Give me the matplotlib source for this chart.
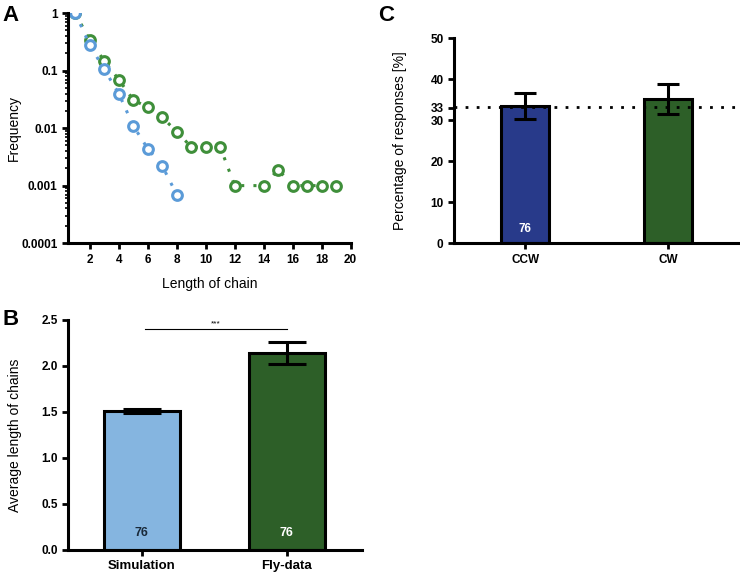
import numpy as np
import matplotlib.pyplot as plt
from matplotlib.ticker import FixedLocator, FixedFormatter, LogLocator, NullFormatter

plt.rcParams['font.family'] = ['Liberation Sans', 'DejaVu Sans']

# Panel A: frequency of chain lengths
sim_len = [1, 2, 3, 4, 5, 6, 7, 8]
sim_freq = [1.0, 0.28, 0.105, 0.04, 0.011, 0.0044, 0.0022, 0.0007]
fly_len = [1, 2, 3, 4, 5, 6, 7, 8, 9, 10, 11, 12, 14, 15, 16, 17, 18, 19]
fly_freq = [1.0, 0.34, 0.148, 0.07, 0.031, 0.023, 0.0154, 0.0087, 0.0047,
            0.0047, 0.0047, 0.001, 0.001, 0.0019, 0.001, 0.001, 0.001, 0.001]

# Panel B: average chain length
b_groups = ['Simulation', 'Fly-data']
b_means = [1.51, 2.14]
b_err = [0.02, 0.12]
b_n = [76, 76]

# Panel C: percentage of responses
c_groups = ['CCW', 'CW']
c_means = [33.5, 35.2]
c_err = [3.2, 3.7]
c_n = [76]

blue = '#5b9bd8'
green = '#3f8f3a'
light_blue = '#85b5e0'
dark_green = '#2d5f28'
navy = '#283a8a'


def style_axes(ax):
    for s in ['top', 'right']:
        ax.spines[s].set_visible(False)
    for s in ['left', 'bottom']:
        ax.spines[s].set_linewidth(2.2)
    ax.tick_params(width=2, length=4, labelsize=8.5)
    for lab in ax.get_xticklabels() + ax.get_yticklabels():
        lab.set_fontweight('bold')


fig = plt.figure(figsize=(7.4, 5.72), dpi=100)

# ---- A ----
axA = fig.add_axes([0.0919, 0.575, 0.382, 0.402])
axA.plot(fly_len, fly_freq, color=green, lw=2.2, ls=(0, (1, 3)),
         marker='o', ms=7, mfc='white', mec=green, mew=2.2)
axA.plot(sim_len, sim_freq, color=blue, lw=2.2, ls=(0, (1, 3)),
         marker='o', ms=7, mfc='white', mec=blue, mew=2.2)
axA.set_yscale('log')
axA.set_ylim(0.0001, 1)
axA.set_xlim(0.5, 20)
axA.yaxis.set_major_locator(FixedLocator([1e-4, 1e-3, 1e-2, 1e-1, 1]))
axA.yaxis.set_major_formatter(FixedFormatter(['0.0001', '0.001', '0.01', '0.1', '1']))
axA.yaxis.set_minor_locator(LogLocator(base=10, subs=np.arange(2, 10)))
axA.yaxis.set_minor_formatter(NullFormatter())
axA.tick_params(axis='y', which='minor', width=1.2, length=2.5)
axA.set_xticks(range(2, 21, 2))
axA.set_xlabel('Length of chain', fontsize=10, labelpad=8)
axA.set_ylabel('Frequency', fontsize=10)
axA.yaxis.set_label_coords(-0.166, 0.5)
style_axes(axA)
fig.text(0.003, 0.964, 'A', fontsize=16, fontweight='bold')

# ---- B ----
axB = fig.add_axes([0.0919, 0.0385, 0.397, 0.4025])
xb = np.arange(len(b_groups))
axB.bar(xb, b_means, width=0.52, color=[light_blue, dark_green],
        edgecolor='black', linewidth=2.2, zorder=2)
axB.errorbar(xb, b_means, yerr=b_err, fmt='none', ecolor='black',
             elinewidth=2.2, capsize=14, capthick=2.2, zorder=3)
for x, n, c in zip(xb, b_n, ['#1a2a3a', 'white']):
    axB.text(x, 0.18, str(n), ha='center', va='center', fontsize=9,
             fontweight='bold', color=c)
axB.plot([0.02, 1.0], [2.4, 2.4], color='black', lw=0.8)
axB.text(0.51, 2.42, '***', ha='center', va='bottom', fontsize=6)
axB.set_xlim(-0.51, 1.517)
axB.set_ylim(0, 2.5)
axB.set_xticks(xb)
axB.set_xticklabels(b_groups)
axB.set_yticks([0, 0.5, 1.0, 1.5, 2.0, 2.5])
axB.set_yticklabels(['0.0', '0.5', '1.0', '1.5', '2.0', '2.5'])
axB.set_ylabel('Average length of chains', fontsize=10)
axB.yaxis.set_label_coords(-0.157, 0.5)
style_axes(axB)
axB.tick_params(axis='x', labelsize=9.5)
fig.text(0.003, 0.432, 'B', fontsize=16, fontweight='bold')

# ---- C ----
axC = fig.add_axes([0.6135, 0.575, 0.3865, 0.3585])
xc = np.arange(len(c_groups))
axC.bar(xc, c_means, width=0.336, color=[navy, dark_green],
        edgecolor='black', linewidth=2.2, zorder=2)
axC.errorbar(xc, c_means, yerr=c_err, fmt='none', ecolor='black',
             elinewidth=2.2, capsize=8, capthick=2.2, zorder=3)
axC.axhline(33.3, color='black', lw=2, ls=(0, (1, 3)), zorder=4)
axC.text(xc[0], 3.5, str(c_n[0]), ha='center', va='center', fontsize=8.5,
         fontweight='bold', color='white')
axC.set_xlim(-0.497, 1.503)
axC.set_ylim(0, 50)
axC.set_xticks(xc)
axC.set_xticklabels(c_groups)
axC.set_yticks([0, 10, 20, 30, 33, 40, 50])
axC.set_ylabel('Percentage of responses [%]', fontsize=10)
axC.yaxis.set_label_coords(-0.164, 0.5)
style_axes(axC)
fig.text(0.511, 0.964, 'C', fontsize=16, fontweight='bold')

fig.savefig('out.png', dpi=100)
